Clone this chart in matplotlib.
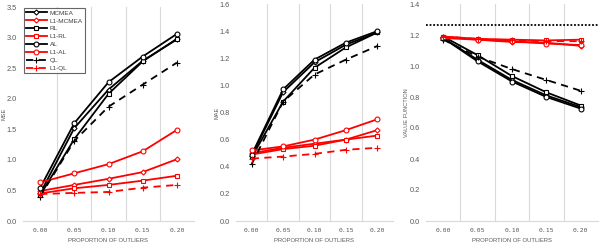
import matplotlib
matplotlib.use("Agg")
import matplotlib.pyplot as plt

plt.rcParams["font.family"] = ["Liberation Sans", "DejaVu Sans"]

categories = ["0.00", "0.05", "0.10", "0.15", "0.20"]
series_names = ["MCMEA", "L1-MCMEA", "RL", "L1-RL", "AL", "L1-AL", "QL", "L1-QL"]

mse = {
    "MCMEA":    [0.45, 1.52, 2.15, 2.62, 2.97],
    "L1-MCMEA": [0.49, 0.59, 0.69, 0.80, 1.01],
    "RL":       [0.42, 1.34, 2.08, 2.61, 2.98],
    "L1-RL":    [0.45, 0.535, 0.59, 0.66, 0.74],
    "AL":       [0.54, 1.60, 2.27, 2.69, 3.06],
    "L1-AL":    [0.63, 0.78, 0.93, 1.14, 1.49],
    "QL":       [0.40, 1.31, 1.87, 2.23, 2.59],
    "L1-QL":    [0.44, 0.46, 0.475, 0.545, 0.59],
}
mae = {
    "MCMEA":    [0.48, 0.95, 1.17, 1.30, 1.39],
    "L1-MCMEA": [0.50, 0.54, 0.57, 0.60, 0.67],
    "RL":       [0.47, 0.88, 1.13, 1.28, 1.39],
    "L1-RL":    [0.49, 0.53, 0.555, 0.60, 0.63],
    "AL":       [0.49, 0.97, 1.19, 1.315, 1.40],
    "L1-AL":    [0.52, 0.55, 0.60, 0.67, 0.75],
    "QL":       [0.42, 0.88, 1.08, 1.19, 1.29],
    "L1-QL":    [0.46, 0.475, 0.495, 0.525, 0.54],
}
vf = {
    "MCMEA":    [1.18, 1.04, 0.91, 0.81, 0.735],
    "L1-MCMEA": [1.19, 1.17, 1.155, 1.15, 1.13],
    "RL":       [1.19, 1.07, 0.935, 0.83, 0.745],
    "L1-RL":    [1.19, 1.175, 1.17, 1.165, 1.17],
    "AL":       [1.18, 1.03, 0.90, 0.80, 0.725],
    "L1-AL":    [1.18, 1.17, 1.16, 1.145, 1.135],
    "QL":       [1.17, 1.06, 0.98, 0.91, 0.84],
    "L1-QL":    [1.19, 1.175, 1.165, 1.16, 1.16],
}
vf_reference = 1.266

styles = {
    "MCMEA":    dict(color="black", marker="D", ms=2.6, ls="-"),
    "L1-MCMEA": dict(color="#FF0000", marker="D", ms=2.6, ls="-"),
    "RL":       dict(color="black", marker="s", ms=3.5, ls="-"),
    "L1-RL":    dict(color="#FF0000", marker="s", ms=3.5, ls="-"),
    "AL":       dict(color="black", marker="o", ms=3.5, ls="-"),
    "L1-AL":    dict(color="#FF0000", marker="o", ms=3.5, ls="-"),
    "QL":       dict(color="black", marker="+", ms=4.5, ls=(0, (4, 3))),
    "L1-QL":    dict(color="#FF0000", marker="+", ms=4.5, ls=(0, (4, 3))),
}

GRAY = "#595959"
fig = plt.figure(figsize=(6.03, 2.46), dpi=100)

panels = [
    (mse, "MSE", (23, 194), (0, 3.5), 0.5, 7),
    (mae, "MAE", (236, 393), (0, 1.6), 0.2, 4),
    (vf, "VALUE FUNCTION", (426, 598), (0, 1.4), 0.2, 4),
]
W, H = 603, 246
x = list(range(len(categories)))
axes = []
for data, ylabel, (x0, x1), ylim, step, ytop in panels:
    ax = fig.add_axes([x0 / W, (H - 221) / H, (x1 - x0) / W, (221 - ytop) / H])
    axes.append(ax)
    for name in series_names:
        st = styles[name]
        ax.plot(x, data[name], color=st["color"], ls=st["ls"], lw=1.3,
                marker=st["marker"], ms=st["ms"], mfc="white",
                mec=st["color"], mew=0.8, label=name, zorder=3)
    ax.set_xlim(-0.5, len(categories) - 0.5)
    ax.set_ylim(*ylim)
    n = int(round(ylim[1] / step))
    ax.set_yticks([i * step for i in range(n + 1)])
    ax.set_yticklabels([f"{i * step:.1f}" for i in range(n + 1)])
    ax.set_xticks(x)
    ax.set_xticklabels(categories, family="DejaVu Sans Mono", fontsize=4.6)
    for g in [i + 0.5 for i in range(len(categories) - 1)]:
        ax.axvline(g, color="#D9D9D9", lw=0.8, zorder=1)
    for s in ["top", "right", "left"]:
        ax.spines[s].set_visible(False)
    ax.spines["bottom"].set_color("#D9D9D9")
    ax.spines["bottom"].set_linewidth(0.8)
    ax.tick_params(axis="y", length=0, labelsize=5.3, colors=GRAY, pad=4.3)
    ax.tick_params(axis="x", length=0, colors=GRAY, pad=5.4)
    ax.set_ylabel(ylabel, fontsize=4.1, color=GRAY, labelpad=0.4)
    ax.set_xlabel("PROPORTION OF OUTLIERS", fontsize=4.2, color=GRAY, labelpad=3.2)

axes[2].axhline(vf_reference, color="black", ls=(0, (1, 1)), lw=1.3, zorder=2)

leg = axes[0].legend(loc="upper left", bbox_to_anchor=(0.0, 1.0), fontsize=4.6,
                     frameon=True, fancybox=False, handlelength=3.2,
                     labelspacing=0.38, borderpad=0.35, handletextpad=0.45,
                     borderaxespad=0.15)
leg.get_frame().set_edgecolor("#404040")
leg.get_frame().set_linewidth(0.8)
for t in leg.get_texts():
    t.set_color("#404040")

fig.savefig("out.png", dpi=100)
